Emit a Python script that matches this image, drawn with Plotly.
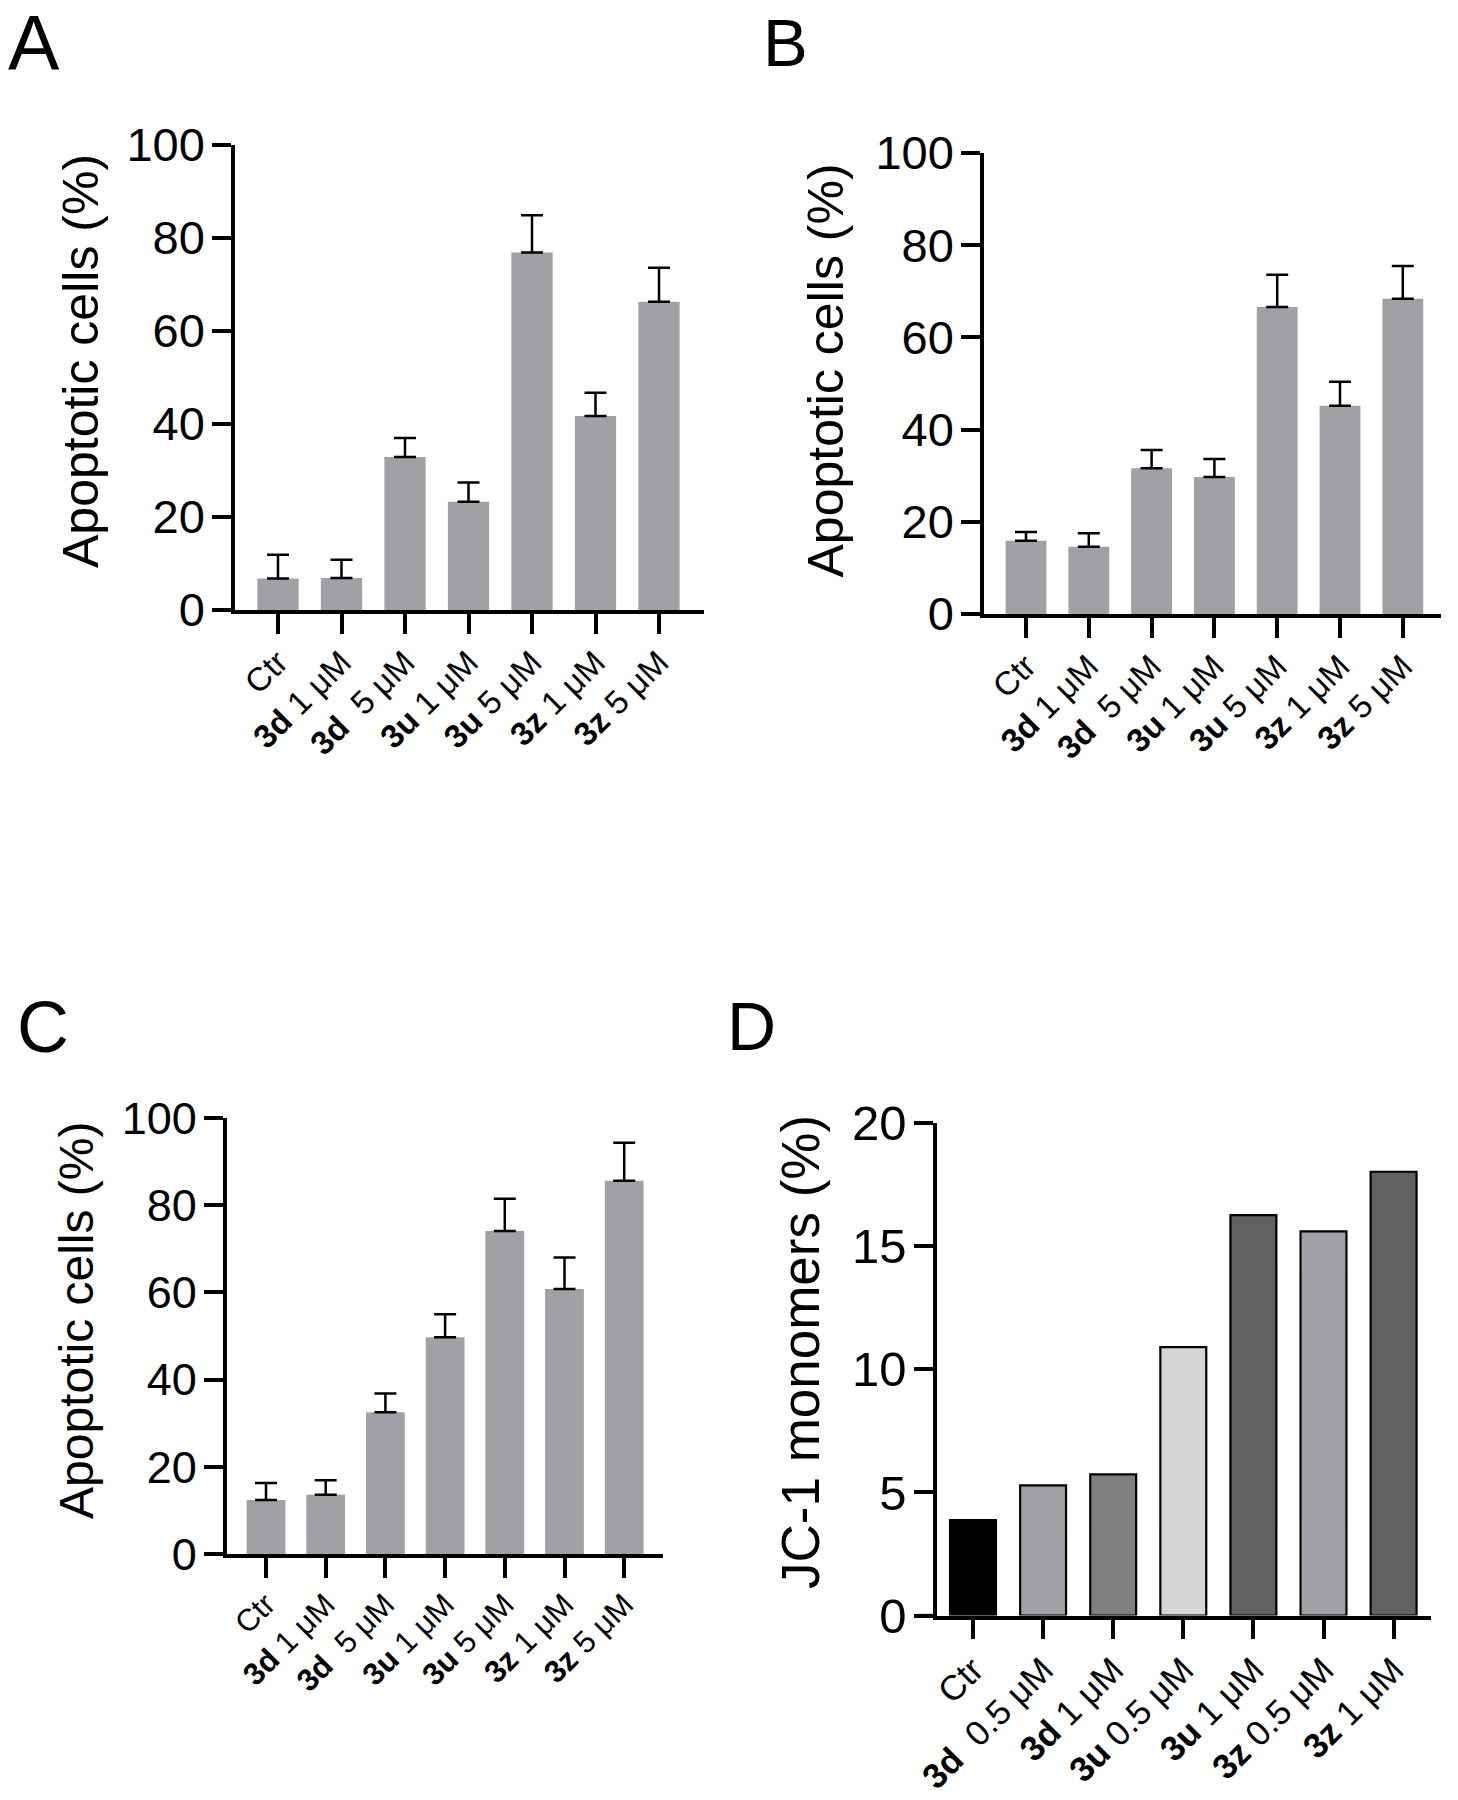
import plotly.graph_objects as go

W, H = 1458, 1800
FONT = "Liberation Sans, Arial, Helvetica, sans-serif"

# ---------------- data ----------------
abc_categories = ["Ctr", "3d 1 uM", "3d 5 uM", "3u 1 uM", "3u 5 uM", "3z 1 uM", "3z 5 uM"]
abc_ticktext = ["Ctr", "<b>3d</b> 1 μM", "<b>3d</b>\u00a0 5 μM", "<b>3u</b> 1 μM",
                "<b>3u</b> 5 μM", "<b>3z</b> 1 μM", "<b>3z</b> 5 μM"]

a_values = [6.8, 6.9, 32.9, 23.3, 76.9, 41.7, 66.3]
a_errors = [5.1, 3.9, 4.1, 4.1, 8.0, 5.0, 7.3]

b_values = [15.9, 14.6, 31.6, 29.7, 66.6, 45.2, 68.4]
b_errors = [1.9, 2.9, 4.0, 3.9, 7.0, 5.2, 7.1]

c_values = [12.4, 13.6, 32.5, 49.7, 74.1, 60.8, 85.6]
c_errors = [3.9, 3.3, 4.3, 5.3, 7.4, 7.2, 8.7]

d_categories = ["Ctr", "3d 0.5 uM", "3d 1 uM", "3u 0.5 uM", "3u 1 uM", "3z 0.5 uM", "3z 1 uM"]
d_ticktext = ["Ctr", "<b>3d</b>\u00a0 0.5 μM", "<b>3d</b> 1 μM", "<b>3u</b> 0.5 μM",
              "<b>3u</b> 1 μM", "<b>3z</b> 0.5 μM", "<b>3z</b> 1 μM"]
d_values = [3.88, 5.29, 5.73, 10.9, 16.26, 15.6, 18.02]
d_colors = ["#000000", "#a1a1a5", "#808080", "#d6d6d6", "#616161", "#a1a1a5", "#616161"]

y_ticks_pct = [0, 20, 40, 60, 80, 100]
y_ticks_jc1 = [0, 5, 10, 15, 20]

BAR_GRAY = "#a1a1a5"


def px_x(px):
    return px / W


def px_y(py):
    return 1 - py / H


fig = go.Figure()

# geometry in page pixels: y-axis x, x-axis right end, top, bottom, first centre, spacing, tick-left
panels = {
    "A": dict(ax="x", ay="y", xl=235, xr=704, yt=145, yb=610, c0=278, sp=63.5, tl=216, yf=47, lf=33),
    "B": dict(ax="x2", ay="y2", xl=984, xr=1441, yt=153, yb=614, c0=1026, sp=62.8, tl=965, yf=47, lf=33),
    "C": dict(ax="x3", ay="y3", xl=226.5, xr=663, yt=1118, yb=1554, c0=266, sp=59.7, tl=208, yf=45, lf=31),
    "D": dict(ax="x4", ay="y4", xl=937, xr=1431, yt=1123, yb=1615.6, c0=973, sp=70.1, tl=917, yf=49, lf=35),
}

err_style = dict(type="data", symmetric=False, color="black", thickness=2.5, width=11)

for key, vals, errs in [("A", a_values, a_errors), ("B", b_values, b_errors), ("C", c_values, c_errors)]:
    p = panels[key]
    fig.add_trace(go.Bar(
        x=abc_categories, y=vals, xaxis=p["ax"], yaxis=p["ay"],
        marker=dict(color=BAR_GRAY, line=dict(width=0)), width=0.65,
        error_y=dict(array=errs, arrayminus=[0] * len(errs), **err_style),
        showlegend=False,
    ))

p = panels["D"]
fig.add_trace(go.Bar(
    x=d_categories, y=d_values, xaxis=p["ax"], yaxis=p["ay"],
    marker=dict(color=d_colors, line=dict(width=2.2, color="black")), width=0.655,
    showlegend=False,
))

layout = dict(
    width=W, height=H, margin=dict(l=0, r=0, t=0, b=0, autoexpand=False),
    paper_bgcolor="white", plot_bgcolor="white",
    font=dict(family=FONT, color="black"),
)

LW = 3.5
for key, p in panels.items():
    xn = p["ax"].replace("x", "xaxis")
    yn = p["ay"].replace("y", "yaxis")
    rng_l = (p["xl"] - p["c0"]) / p["sp"]
    rng_r = (p["xr"] - p["c0"]) / p["sp"]
    if key == "D":
        cats, ttext, yt, yr = d_categories, d_ticktext, y_ticks_jc1, [0, 20]
    else:
        cats, ttext, yt, yr = abc_categories, abc_ticktext, y_ticks_pct, [0, 100]
    layout[xn] = dict(
        domain=[px_x(p["xl"]), px_x(p["xr"])], anchor=p["ay"],
        type="category", range=[rng_l, rng_r], automargin=False,
        tickmode="array", tickvals=cats, ticktext=ttext, tickangle=-45,
        showline=True, linewidth=LW, linecolor="black",
        ticks="outside", ticklen=20, tickwidth=LW, tickcolor="black",
        showgrid=False, zeroline=False,
        tickfont=dict(family=FONT, size=p["lf"], color="black"),
        ticklabelstandoff=-4,
    )
    layout[yn] = dict(
        domain=[px_y(p["yb"]), px_y(p["yt"])], anchor=p["ax"],
        range=yr, tickmode="array", tickvals=yt, automargin=False,
        showline=True, linewidth=LW, linecolor="black",
        ticks="outside", ticklen=19, tickwidth=LW, tickcolor="black",
        showgrid=False, zeroline=False,
        tickfont=dict(family=FONT, size=p["yf"], color="black"),
        ticklabelstandoff=-2,
    )

fig.update_layout(**layout)

# extend the x-axis line to the left under the y ticks (Prism style)
shapes = []
for key, p in panels.items():
    ext = (p["tl"] - p["xl"]) / (p["xr"] - p["xl"])
    shapes.append(dict(type="line", xref=p["ax"] + " domain", yref=p["ay"] + " domain",
                       x0=ext, x1=0.0, y0=0, y1=0, line=dict(color="black", width=LW)))
fig.update_layout(shapes=shapes)

annotations = []
# panel letters
for txt, cx, cy, fs in [("A", 34, 43, 77), ("B", 785, 43, 67), ("C", 42.5, 1027, 72), ("D", 752, 1026, 68)]:
    annotations.append(dict(text=txt, x=px_x(cx), y=px_y(cy), xref="paper", yref="paper",
                            xanchor="center", yanchor="middle", showarrow=False,
                            font=dict(family=FONT, size=fs, color="black")))
# axis titles
for txt, cx, cy, fs in [("Apoptotic cells (%)", 81, 361, 50), ("Apoptotic cells (%)", 826, 370.5, 50),
                        ("Apoptotic cells (%)", 76, 1321, 48), ("JC-1 monomers (%)", 800, 1352, 53)]:
    annotations.append(dict(text=txt, x=px_x(cx), y=px_y(cy), xref="paper", yref="paper",
                            xanchor="center", yanchor="middle", showarrow=False, textangle=-90,
                            font=dict(family=FONT, size=fs, color="black")))
fig.update_layout(annotations=annotations)

fig.write_html("out.html", config={"displayModeBar": False},
               post_script="document.body.style.margin='0px';")
